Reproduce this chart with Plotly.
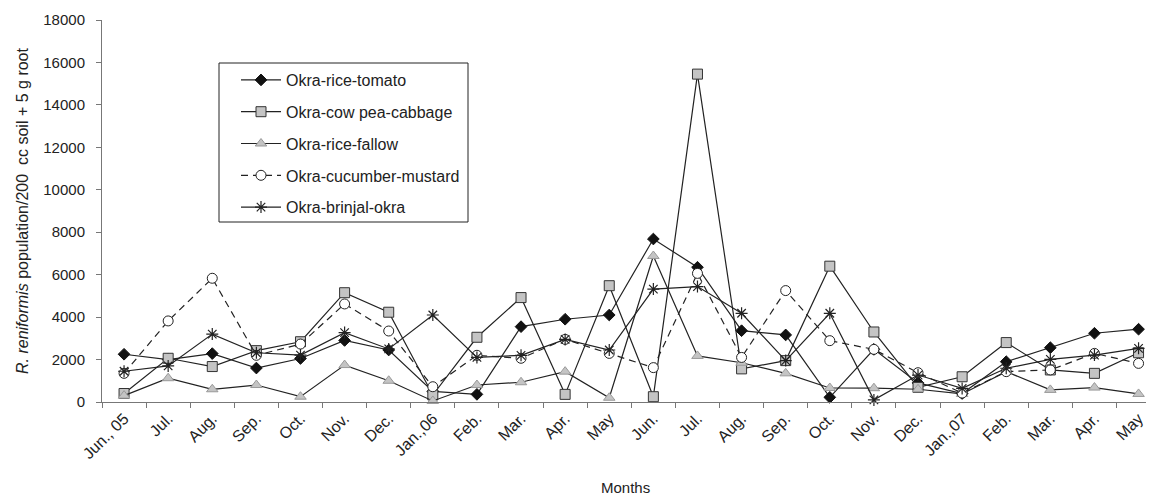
import plotly.graph_objects as go

months = ["Jun., 05", "Jul.", "Aug.", "Sep.", "Oct.", "Nov.", "Dec.", "Jan.,06",
          "Feb.", "Mar.", "Apr.", "May", "Jun.", "Jul.", "Aug.", "Sep.", "Oct.",
          "Nov.", "Dec.", "Jan.,07", "Feb.", "Mar.", "Apr.", "May"]

rice_tomato = [2250, 2000, 2280, 1600, 2050, 2900, 2450, 500,
               360, 3550, 3900, 4100, 7680, 6350, 3360, 3160, 220,
               2480, 900, 400, 1900, 2560, 3240, 3430]
cowpea_cabbage = [400, 2060, 1670, 2420, 2840, 5150, 4230, 330,
                  3050, 4920, 360, 5480, 250, 15450, 1560, 1950, 6400,
                  3300, 690, 1190, 2800, 1510, 1350, 2320]
rice_fallow = [300, 1120, 600, 800, 250, 1740, 1000, 50,
               800, 930, 1430, 200, 6880, 2170, 1850, 1350, 660,
               650, 600, 380, 1430, 570, 680, 380]
cucumber_mustard = [1350, 3820, 5830, 2200, 2730, 4620, 3345, 720,
                    2200, 2060, 2950, 2290, 1620, 6060, 2100, 5250, 2890,
                    2480, 1380, 420, 1430, 1510, 2290, 1820]
brinjal_okra = [1450, 1700, 3200, 2320, 2210, 3270, 2500, 4100,
                2100, 2200, 2950, 2450, 5320, 5440, 4180, 1950, 4180,
                100, 1270, 640, 1590, 2010, 2210, 2530]

series = [
    ("Okra-rice-tomato", rice_tomato),
    ("Okra-cow pea-cabbage", cowpea_cabbage),
    ("Okra-rice-fallow", rice_fallow),
    ("Okra-cucumber-mustard", cucumber_mustard),
    ("Okra-brinjal-okra", brinjal_okra),
]

styles = {
    "Okra-rice-tomato": dict(line=dict(color="#222222", width=1.2),
                             marker=dict(symbol="diamond", size=9, color="#111111",
                                         line=dict(color="#111111", width=1))),
    "Okra-cow pea-cabbage": dict(line=dict(color="#222222", width=1.2),
                                 marker=dict(symbol="square", size=10, color="#c4c4c4",
                                             line=dict(color="#333333", width=1))),
    "Okra-rice-fallow": dict(line=dict(color="#222222", width=1.2),
                             marker=dict(symbol="triangle-up", size=10, color="#c4c4c4",
                                         line=dict(color="#999999", width=1))),
    "Okra-cucumber-mustard": dict(line=dict(color="#222222", width=1.2, dash="7px,5px"),
                                  marker=dict(symbol="circle", size=10, color="white",
                                              line=dict(color="#222222", width=1))),
    "Okra-brinjal-okra": dict(line=dict(color="#222222", width=1.2),
                              marker=dict(symbol="asterisk-open", size=10, color="#222222",
                                          line=dict(color="#222222", width=1.2))),
}

# unique category keys (month names repeat across years)
keys = [f"m{i}" for i in range(len(months))]

OFF = 8  # page body margin
W, H = 1154 - OFF, 497 - OFF
L, T = 102 - OFF, 20 - OFF
R = 0
B = H - (402 - OFF)
PW, PH = W - L - R, H - T - B


def px_x(sx):
    return (sx - OFF - L) / PW


def px_y(sy):
    return (H - B - (sy - OFF)) / PH


fig = go.Figure()
for name, vals in series:
    st = styles[name]
    fig.add_trace(go.Scatter(x=keys, y=vals, name=name, mode="lines+markers",
                             line=st["line"], marker=st["marker"],
                             legendgroup=name, cliponaxis=False))

font_family = "Liberation Sans, Arial, sans-serif"
fig.update_layout(
    width=W, height=H,
    margin=dict(l=L, r=R, t=T, b=B),
    plot_bgcolor="white", paper_bgcolor="white",
    font=dict(family=font_family, size=15, color="#222222"),
    showlegend=True,
    legend=dict(x=px_x(236), y=px_y(63), xanchor="left", yanchor="top",
                borderwidth=0, bgcolor="rgba(0,0,0,0)",
                font=dict(size=16, color="#222222"), tracegroupgap=8,
                itemwidth=40),
    xaxis=dict(type="category", categoryorder="array", categoryarray=keys,
               tickvals=keys, ticktext=months, automargin=False,
               range=[-0.5, 23.35], tickangle=-45,
               showline=True, linecolor="#777777", linewidth=1,
               ticks="outside", ticklen=5, tickcolor="#777777", tickson="boundaries",
               showgrid=False, zeroline=False, tickfont=dict(size=16)),
    yaxis=dict(range=[0, 18000], dtick=2000, tickformat="d", showline=True,
               linecolor="#777777", linewidth=1, ticks="outside", ticklen=5,
               tickcolor="#777777", showgrid=False, zeroline=False, automargin=False,
               tickfont=dict(size=15), ticklabelstandoff=8),
    shapes=[dict(type="rect", xref="paper", yref="paper",
                 x0=px_x(219), x1=px_x(468), y0=px_y(222), y1=px_y(63),
                 line=dict(color="#222222", width=1), fillcolor="white", layer="below")],
    annotations=[
        dict(text="<i>R. reniformis</i> population/200  cc soil + 5 g root",
             xref="paper", yref="paper", x=px_x(22), y=0.5, textangle=-90,
             xanchor="center", yanchor="middle", showarrow=False,
             font=dict(size=16, color="#222222")),
        dict(text="Months", xref="paper", yref="paper", x=px_x(625), y=px_y(487),
             xanchor="center", yanchor="middle", showarrow=False,
             font=dict(size=15, color="#222222")),
    ],
)

fig.write_html("out.html")
